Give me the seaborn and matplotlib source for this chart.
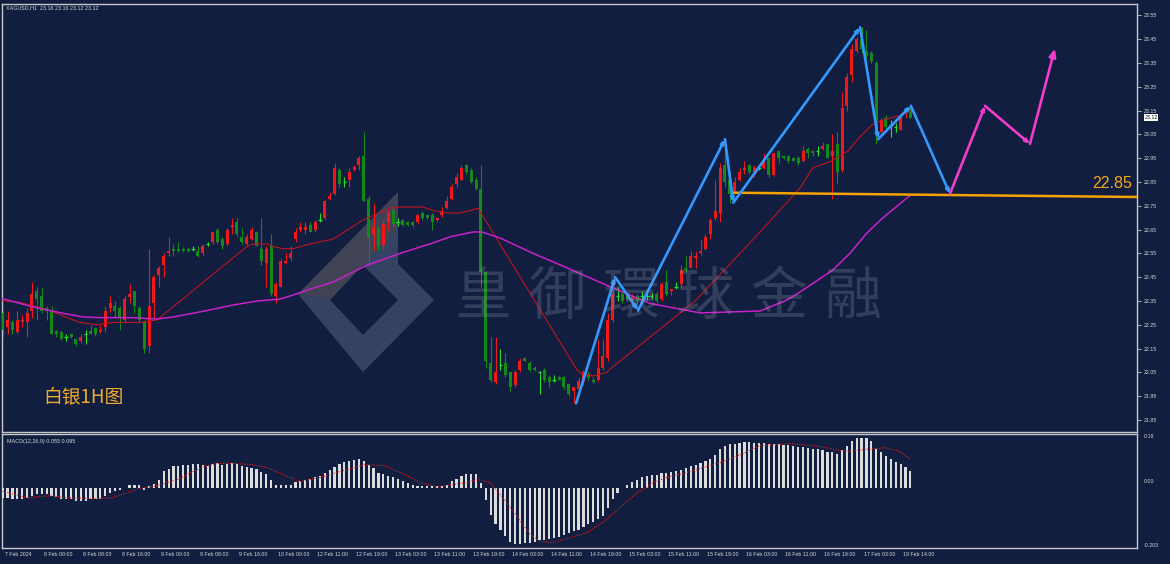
import numpy as np
import pandas as pd
import seaborn as sns
import matplotlib.pyplot as plt
from matplotlib.patches import Polygon

sns.set_style("dark")
plt.rcParams['font.family'] = ['Liberation Sans', 'DejaVu Sans']

BG = '#111e40'
FRAME = '#c8c8c8'
RED = '#f01818'
GREEN = '#138a17'
DOJI = '#27e027'

# XAGUSD H1 candles, 7 Feb 16:00 -> 19 Feb 14:00
open_ = [22.30, 22.24, 22.26, 22.22, 22.26, 22.26, 22.31, 22.39, 22.37, 22.32,
         22.31, 22.225, 22.22, 22.20, 22.21, 22.19, 22.18, 22.21, 22.225, 22.235,
         22.22, 22.24, 22.32, 22.33, 22.32, 22.27, 22.365, 22.39, 22.32, 22.26,
         22.16, 22.34, 22.46, 22.50, 22.55, 22.57, 22.57, 22.57, 22.57, 22.57,
         22.56, 22.55, 22.59, 22.60, 22.65, 22.61, 22.59, 22.66, 22.68, 22.62,
         22.59, 22.61, 22.64, 22.57, 22.51, 22.58, 22.37, 22.41, 22.51, 22.53,
         22.61, 22.65, 22.65, 22.67, 22.65, 22.69, 22.70, 22.78, 22.80, 22.90,
         22.85, 22.86, 22.90, 22.92, 22.96, 22.78, 22.63, 22.655, 22.585, 22.68,
         22.73, 22.68, 22.69, 22.68, 22.68, 22.68, 22.72, 22.71, 22.71, 22.69,
         22.71, 22.74, 22.78, 22.84, 22.86, 22.92, 22.90, 22.86, 22.82, 22.47,
         22.09, 22.01, 22.08, 22.09, 22.05, 21.997, 22.06, 22.11, 22.09, 22.07,
         22.05, 22.06, 22.03, 22.02, 22.03, 22.03, 22.00, 21.97, 21.98, 22.01,
         22.045, 22.02, 22.02, 22.07, 22.11, 22.27, 22.37, 22.38, 22.37, 22.35,
         22.37, 22.37, 22.37, 22.37, 22.38, 22.36, 22.43, 22.39, 22.41, 22.42,
         22.49, 22.49, 22.53, 22.55, 22.57, 22.63, 22.70, 22.72, 22.92, 22.86,
         22.81, 22.86, 22.90, 22.92, 22.88, 22.91, 22.91, 22.95, 22.88, 22.98,
         22.96, 22.96, 22.95, 22.95, 22.94, 22.99, 22.98, 22.98, 22.99, 23.01,
         22.96, 23.01, 22.90, 23.17, 23.30, 23.40, 23.45, 23.40, 23.39, 23.35,
         23.06, 23.12, 23.09, 23.08, 23.07, 23.14, 23.16]
high = [22.31, 22.31, 22.27, 22.31, 22.29, 22.32, 22.43, 22.41, 22.41, 22.33,
        22.33, 22.23, 22.225, 22.21, 22.215, 22.19, 22.21, 22.23, 22.25, 22.24,
        22.25, 22.33, 22.37, 22.35, 22.33, 22.37, 22.42, 22.39, 22.33, 22.27,
        22.57, 22.46, 22.495, 22.55, 22.62, 22.59, 22.60, 22.575, 22.575, 22.58,
        22.58, 22.59, 22.60, 22.645, 22.655, 22.62, 22.655, 22.70, 22.70, 22.655,
        22.63, 22.66, 22.645, 22.70, 22.58, 22.63, 22.43, 22.53, 22.55, 22.58,
        22.655, 22.68, 22.68, 22.68, 22.69, 22.72, 22.775, 22.81, 22.93, 22.91,
        22.87, 22.91, 22.92, 22.96, 23.06, 22.79, 22.76, 22.665, 22.69, 22.73,
        22.745, 22.70, 22.695, 22.685, 22.685, 22.715, 22.73, 22.715, 22.72, 22.705,
        22.745, 22.79, 22.84, 22.886, 22.92, 22.925, 22.91, 22.87, 22.92, 22.475,
        22.20, 22.20, 22.15, 22.13, 22.053, 22.06, 22.11, 22.115, 22.10, 22.075,
        22.055, 22.067, 22.04, 22.04, 22.035, 22.035, 22.005, 21.98, 22.03, 22.06,
        22.05, 22.03, 22.19, 22.19, 22.30, 22.40, 22.41, 22.39, 22.38, 22.38,
        22.38, 22.39, 22.39, 22.385, 22.39, 22.43, 22.48, 22.40, 22.43, 22.50,
        22.54, 22.56, 22.56, 22.61, 22.63, 22.70, 22.86, 22.93, 23.03, 22.89,
        22.87, 22.91, 22.94, 22.925, 22.92, 22.915, 22.97, 22.955, 22.97, 22.985,
        22.965, 22.965, 22.955, 22.96, 23.00, 22.995, 22.985, 23.00, 23.02, 23.013,
        23.05, 23.06, 23.23, 23.31, 23.43, 23.46, 23.50, 23.49, 23.40, 23.36,
        23.12, 23.13, 23.11, 23.10, 23.13, 23.16, 23.16]
low = [22.20, 22.21, 22.21, 22.21, 22.24, 22.20, 22.28, 22.27, 22.30, 22.27,
       22.21, 22.20, 22.185, 22.18, 22.195, 22.16, 22.175, 22.17, 22.21, 22.205,
       22.215, 22.22, 22.305, 22.28, 22.23, 22.26, 22.34, 22.30, 22.26, 22.13,
       22.13, 22.27, 22.41, 22.45, 22.54, 22.54, 22.555, 22.555, 22.555, 22.56,
       22.535, 22.54, 22.58, 22.59, 22.59, 22.57, 22.58, 22.63, 22.625, 22.59,
       22.585, 22.605, 22.58, 22.50, 22.41, 22.37, 22.34, 22.41, 22.505, 22.52,
       22.60, 22.64, 22.63, 22.64, 22.64, 22.68, 22.69, 22.775, 22.795, 22.83,
       22.83, 22.83, 22.895, 22.90, 22.77, 22.51, 22.565, 22.56, 22.57, 22.65,
       22.66, 22.665, 22.665, 22.665, 22.66, 22.675, 22.69, 22.695, 22.65, 22.68,
       22.705, 22.735, 22.775, 22.83, 22.86, 22.885, 22.845, 22.815, 22.41, 22.07,
       22.01, 22.00, 22.06, 22.03, 21.97, 21.99, 22.05, 22.10, 22.05, 22.055,
       21.96, 22.01, 21.99, 22.01, 22.02, 21.98, 21.95, 21.92, 21.975, 21.998,
       22.02, 22.005, 22.015, 22.06, 22.10, 22.26, 22.35, 22.34, 22.35, 22.34,
       22.31, 22.35, 22.355, 22.36, 22.34, 22.35, 22.37, 22.375, 22.40, 22.41,
       22.47, 22.49, 22.49, 22.545, 22.565, 22.61, 22.69, 22.68, 22.83, 22.76,
       22.80, 22.855, 22.885, 22.885, 22.87, 22.90, 22.905, 22.87, 22.875, 22.93,
       22.945, 22.93, 22.94, 22.92, 22.935, 22.95, 22.96, 22.96, 22.985, 22.95,
       22.78, 22.84, 22.89, 23.15, 23.27, 23.39, 23.39, 23.37, 23.35, 23.01,
       23.05, 23.07, 23.04, 23.06, 23.07, 23.12, 23.12]
close = [22.23, 22.27, 22.23, 22.27, 22.27, 22.30, 22.38, 22.36, 22.31, 22.31,
         22.21, 22.21, 22.19, 22.20, 22.20, 22.17, 22.20, 22.21, 22.21, 22.21,
         22.23, 22.31, 22.34, 22.31, 22.28, 22.36, 22.38, 22.33, 22.27, 22.15,
         22.33, 22.45, 22.49, 22.54, 22.56, 22.56, 22.56, 22.56, 22.56, 22.57,
         22.54, 22.58, 22.59, 22.64, 22.60, 22.58, 22.65, 22.67, 22.63, 22.60,
         22.62, 22.65, 22.58, 22.52, 22.57, 22.38, 22.42, 22.52, 22.52, 22.55,
         22.64, 22.66, 22.66, 22.64, 22.68, 22.69, 22.77, 22.79, 22.91, 22.84,
         22.85, 22.89, 22.915, 22.95, 22.77, 22.62, 22.66, 22.58, 22.675, 22.72,
         22.675, 22.68, 22.67, 22.67, 22.67, 22.71, 22.70, 22.70, 22.68, 22.70,
         22.73, 22.77, 22.83, 22.87, 22.91, 22.89, 22.85, 22.82, 22.47, 22.10,
         22.02, 22.05, 22.08, 22.04, 21.99, 22.05, 22.10, 22.10, 22.06, 22.06,
         22.05, 22.02, 22.01, 22.02, 22.02, 21.99, 21.96, 21.99, 22.015, 22.05,
         22.03, 22.01, 22.07, 22.12, 22.27, 22.38, 22.37, 22.35, 22.36, 22.37,
         22.35, 22.37, 22.37, 22.37, 22.35, 22.42, 22.38, 22.40, 22.41, 22.48,
         22.48, 22.54, 22.54, 22.56, 22.62, 22.69, 22.73, 22.91, 22.85, 22.80,
         22.85, 22.89, 22.91, 22.89, 22.91, 22.91, 22.94, 22.88, 22.97, 22.95,
         22.95, 22.94, 22.94, 22.93, 22.98, 22.97, 22.97, 22.98, 23.00, 22.95,
         22.98, 22.89, 23.16, 23.29, 23.41, 23.45, 23.41, 23.38, 23.36, 23.05,
         23.11, 23.08, 23.09, 23.08, 23.12, 23.15, 23.12]

# MACD(12,26,9) main line (histogram)
macd = [-0.035, -0.035, -0.040, -0.040, -0.038, -0.035, -0.027, -0.020, -0.020, -0.020,
        -0.029, -0.031, -0.038, -0.040, -0.040, -0.044, -0.044, -0.046, -0.040, -0.038,
        -0.038, -0.029, -0.018, -0.012, -0.009, -0.002, 0.010, 0.010, 0.007, -0.009,
        0.004, 0.013, 0.027, 0.055, 0.063, 0.072, 0.074, 0.077, 0.077, 0.078,
        0.078, 0.077, 0.074, 0.078, 0.081, 0.076, 0.078, 0.081, 0.078, 0.072,
        0.069, 0.066, 0.063, 0.051, 0.046, 0.025, 0.010, 0.010, 0.010, 0.010,
        0.018, 0.021, 0.025, 0.030, 0.035, 0.040, 0.050, 0.058, 0.070, 0.080,
        0.085, 0.090, 0.094, 0.095, 0.090, 0.075, 0.065, 0.050, 0.045, 0.040,
        0.035, 0.030, 0.022, 0.016, 0.010, 0.006, 0.004, 0.004, 0.004, 0.004,
        0.004, 0.010, 0.021, 0.029, 0.040, 0.047, 0.047, 0.047, 0.016, -0.043,
        -0.091, -0.122, -0.143, -0.163, -0.183, -0.189, -0.189, -0.186, -0.186, -0.183,
        -0.177, -0.177, -0.174, -0.170, -0.166, -0.161, -0.154, -0.147, -0.141, -0.132,
        -0.123, -0.116, -0.107, -0.094, -0.069, -0.040, -0.018, -0.001, 0.009, 0.020,
        0.027, 0.034, 0.038, 0.043, 0.043, 0.049, 0.049, 0.051, 0.055, 0.060,
        0.065, 0.072, 0.076, 0.083, 0.088, 0.096, 0.111, 0.130, 0.140, 0.145,
        0.148, 0.150, 0.152, 0.152, 0.151, 0.150, 0.150, 0.148, 0.147, 0.146,
        0.144, 0.142, 0.140, 0.137, 0.135, 0.133, 0.130, 0.128, 0.125, 0.120,
        0.118, 0.112, 0.125, 0.140, 0.158, 0.165, 0.168, 0.165, 0.158, 0.130,
        0.118, 0.105, 0.095, 0.085, 0.078, 0.068, 0.055]

sig_bar = [0, 5.0, 9.7, 13.2, 19.9, 22.6, 25.5, 28.1, 30.8, 33.7, 36.3, 39.0, 41.0,
           43.9, 47.2, 51.3, 54.2, 57.4, 60.9, 65.0, 69.1, 74.2, 78.3, 82.4, 85.5,
           89.0, 92.3, 95.1, 97.4, 99.9, 102.5, 105.4, 108.1, 110.1, 112.8, 116.3,
           119.7, 123.0, 126.5, 130.0, 132.0, 133.3, 136.7, 140.2, 143.5, 147.0,
           151.1, 155.2, 161.3, 167.5, 172.6, 176.7, 180.8, 183.9, 186.0]
sig_val = [-0.012, -0.034, -0.027, -0.034, -0.037, -0.034, -0.017, -0.003, 0.003,
           0.017, 0.030, 0.054, 0.070, 0.081, 0.081, 0.077, 0.067, 0.044, 0.020,
           0.034, 0.054, 0.077, 0.074, 0.044, 0.017, 0.003, 0.010, 0.017, 0.027,
           0.017, -0.034, -0.097, -0.158, -0.181, -0.185, -0.168, -0.151, -0.117,
           -0.067, -0.017, 0.000, 0.017, 0.037, 0.050, 0.067, 0.084, 0.110, 0.141,
           0.148, 0.138, 0.121, 0.128, 0.134, 0.121, 0.095]

# moving averages (vertices as drawn)
ma_red_bar = [0, 3.1, 6.2, 9.7, 13.2, 15.8, 19.3, 22.6, 28.1, 31.6, 50.1, 51.3, 54.2,
              55.2, 57.4, 59.5, 63.0, 67.7, 73.8, 79.4, 81.4, 86.1, 88.2, 91.1, 93.7,
              95.8, 97.4, 117.7, 118.9, 121.0, 123.8, 124.8, 141.9, 146.0, 155.2,
              163.4, 166.0, 169.5, 173.2, 175.7, 178.1, 180.4, 183.9, 186.0]
ma_red = [22.35, 22.346, 22.33, 22.31, 22.28, 22.26, 22.25, 22.26, 22.26, 22.27,
          22.58, 22.59, 22.59, 22.58, 22.57, 22.57, 22.59, 22.61, 22.69, 22.74,
          22.745, 22.745, 22.73, 22.72, 22.72, 22.73, 22.74, 22.06, 22.04, 22.035,
          22.05, 22.07, 22.35, 22.44, 22.64, 22.825, 22.91, 22.935, 22.98, 23.04,
          23.09, 23.11, 23.13, 23.15]
ma_mag_bar = [0, 3.5, 6.2, 9.7, 13.2, 16.5, 20.0, 26.7, 31.6, 34.9, 40.4, 47.2, 52.1,
              56.8, 59.5, 63.0, 67.7, 74.6, 81.4, 88.2, 91.7, 96.4, 98.2, 101.9,
              108.7, 115.6, 118.9, 124.5, 132.6, 142.9, 155.2, 160.7, 163.4, 170.1,
              173.6, 177.1, 180.4, 186.0]
ma_mag = [22.36, 22.34, 22.325, 22.31, 22.295, 22.283, 22.28, 22.28, 22.274, 22.283,
          22.304, 22.333, 22.35, 22.358, 22.375, 22.40, 22.43, 22.50, 22.55, 22.594,
          22.62, 22.64, 22.64, 22.615, 22.55, 22.49, 22.46, 22.41, 22.34, 22.30,
          22.308, 22.354, 22.388, 22.48, 22.55, 22.636, 22.70, 22.795]

# drawn analysis lines
zz_bar = [117.5, 125.5, 130.2, 148.0, 149.7, 175.7, 179.4, 186.1, 194.1]
zz_price = [21.92, 22.45, 22.31, 23.03, 22.763, 23.50, 23.03, 23.17, 22.80]
proj_bar = [194.1, 201.3, 210.5, 215.6]
proj_price = [22.80, 23.17, 23.01, 23.41]
sup_bar = [149.7, 232.4]
sup_price = [22.805, 22.787]
sup_label = '22.85'

price_ticks = [21.85, 21.95, 22.05, 22.15, 22.25, 22.35, 22.45, 22.55, 22.65,
               22.75, 22.85, 22.95, 23.05, 23.15, 23.25, 23.35, 23.45, 23.55]
time_labels = ['7 Feb 2024', '8 Feb 00:00', '8 Feb 08:00', '8 Feb 16:00', '9 Feb 00:00',
               '9 Feb 08:00', '9 Feb 16:00', '10 Feb 00:00', '12 Feb 11:00',
               '12 Feb 19:00', '13 Feb 03:00', '13 Feb 11:00', '13 Feb 19:00',
               '14 Feb 03:00', '14 Feb 11:00', '14 Feb 19:00', '15 Feb 03:00',
               '15 Feb 11:00', '15 Feb 19:00', '16 Feb 03:00', '16 Feb 11:00',
               '16 Feb 19:00', '17 Feb 03:00', '19 Feb 14:00']

df = pd.DataFrame({'o': open_, 'h': high, 'l': low, 'c': close})
df['i'] = np.arange(len(df))

W, H = 1170, 564
fig = plt.figure(figsize=(W / 100, H / 100), dpi=100, facecolor=BG)
L, R = 2, 1137
ax = fig.add_axes([L / W, (H - 432) / H, (R - L) / W, (432 - 3.5) / H])
axm = fig.add_axes([L / W, (H - 548) / H, (R - L) / W, 114 / H])
XL = ((L - 2.7) / 4.88, (R - 2.7) / 4.88)

for a in (ax, axm):
    a.set_facecolor(BG)
    a.set_xlim(*XL)
    for s in a.spines.values():
        s.set_color(FRAME)
        s.set_linewidth(1.0)
    a.grid(False)
ax.set_ylim(21.7996, 23.600)
axm.set_ylim(-0.203, 0.18)


def pax(x, y):
    return ((x - L) / (R - L), (432 - y) / 428.5)


# watermark logo
band = [pax(*p) for p in [(298, 294), (398, 192), (398, 228), (330, 300)]]
frame = [pax(*p) for p in [(298, 294), (330, 300), (363, 335), (398, 300), (363, 265),
                           (398, 228), (398, 264), (434, 300), (363, 372)]]
ax.add_patch(Polygon(band, closed=True, transform=ax.transAxes, facecolor='#a09080',
                     alpha=0.33, lw=0, zorder=1))
ax.add_patch(Polygon(frame, closed=True, transform=ax.transAxes, facecolor='#7c88a8',
                     alpha=0.35, lw=0, zorder=1))

# candles
up = df[df.c > df.o]
dn = df[df.c < df.o]
dj = df[df.c == df.o]
for d, col in [(up, RED), (dn, GREEN), (dj, DOJI)]:
    ax.vlines(d.i, d.l, d.h, color=col, lw=0.8, zorder=3)
for d, col in [(up, RED), (dn, GREEN)]:
    ax.bar(d.i, (d.c - d.o).abs(), bottom=np.minimum(d.o, d.c), width=0.62,
           color=col, linewidth=0, zorder=4)
ax.hlines(dj.c, dj.i - 0.35, dj.i + 0.35, color=DOJI, lw=0.9, zorder=4)

# moving averages
sns.lineplot(x=ma_red_bar, y=ma_red, ax=ax, color='#c0141e', linewidth=0.8,
             estimator=None, sort=False, legend=False, zorder=5)
sns.lineplot(x=ma_mag_bar, y=ma_mag, ax=ax, color='#c822c8', linewidth=1.1,
             estimator=None, sort=False, legend=False, zorder=5)

# support line and label
sns.lineplot(x=sup_bar, y=sup_price, ax=ax, color='#f5a300', linewidth=1.8,
             estimator=None, sort=False, legend=False, zorder=6)
ax.text(223.2, 22.812, sup_label, color='#f5a623', fontsize=11.5, ha='left', va='bottom',
        zorder=8)

# zigzag and projection
for xs, ys, col in [(zz_bar, zz_price, '#3399ff'), (proj_bar, proj_price, '#f23ccc')]:
    for k in range(len(xs) - 1):
        last = col == '#f23ccc' and k == len(xs) - 2
        head = 'head_length=0.45,head_width=0.2' if last else 'head_length=0.22,head_width=0.09'
        ax.annotate('', xy=(xs[k + 1], ys[k + 1]), xytext=(xs[k], ys[k]),
                    arrowprops=dict(arrowstyle='-|>,' + head,
                                    color=col, lw=1.9, shrinkA=0, shrinkB=0), zorder=7)

# watermark text
for k, ch in enumerate('皇御環球金融'):
    fx, fy = pax(483 + k * 74, 298)
    ax.text(fx, fy, ch, transform=ax.transAxes, fontsize=41, color='#a0a4b4', alpha=0.24,
            ha='center', va='center', family=['Noto Sans CJK TC'], zorder=9)

ax.text(*pax(43, 397), '白银1H图', transform=ax.transAxes, fontsize=13.5, color='#f2ac2c',
        ha='left', va='center', family=['Noto Sans CJK SC'], zorder=8)
ax.text(*pax(6, 8), 'XAGUSD,H1  23.16 23.16 23.12 23.12', transform=ax.transAxes,
        fontsize=3.9, color='#d8d8d8', ha='left', va='center', zorder=8)

# price axis
ax.yaxis.tick_right()
ax.set_yticks(price_ticks)
ax.set_yticklabels([f'{v:.2f}' for v in price_ticks])
ax.tick_params(axis='y', colors=FRAME, labelsize=3.8, length=3, width=0.6, pad=1.5,
               labelcolor='#d8d8d8')
ax.set_xticks([])
ax.text(1.0065, 23.12, '23.12', transform=ax.get_yaxis_transform(), fontsize=3.8,
        color='#111111', ha='left', va='center', zorder=9,
        bbox=dict(boxstyle='square,pad=0.15', fc='white', ec='none'))

# MACD panel
axm.bar(np.arange(len(macd)), macd, width=0.45, color='#dcdcdc', linewidth=0, zorder=3)
sns.lineplot(x=sig_bar, y=sig_val, ax=axm, color='#e02020', linewidth=0.8,
             linestyle=(0, (1, 1.2)), estimator=None, sort=False, legend=False, zorder=4)
axm.set_yticks([])
axm.text(1.006, 0.18, '0.18', transform=axm.get_yaxis_transform(), fontsize=3.8,
         color='#d8d8d8', ha='left', va='top')
axm.text(1.006, 0.012, '0.00', transform=axm.get_yaxis_transform(), fontsize=3.8,
         color='#d8d8d8', ha='left', va='bottom')
axm.text(1.006, -0.203, '-0.203', transform=axm.get_yaxis_transform(), fontsize=3.8,
         color='#d8d8d8', ha='left', va='bottom')
axm.text(0.004, 0.955, 'MACD(12,26,9) 0.055 0.095', transform=axm.transAxes, fontsize=3.9,
         color='#d8d8d8', ha='left', va='top')

tick_pos = [8 * k for k in range(len(time_labels))]
axm.set_xticks(tick_pos)
axm.set_xticklabels([])
axm.tick_params(axis='x', colors=FRAME, length=3, width=0.6, direction='out')
for p, lab in zip(tick_pos, time_labels):
    axm.text(p + 0.4, -0.035, lab, transform=axm.get_xaxis_transform(), fontsize=3.8,
             color='#d8d8d8', ha='left', va='top')

fig.savefig('out.png', dpi=100, facecolor=BG)
